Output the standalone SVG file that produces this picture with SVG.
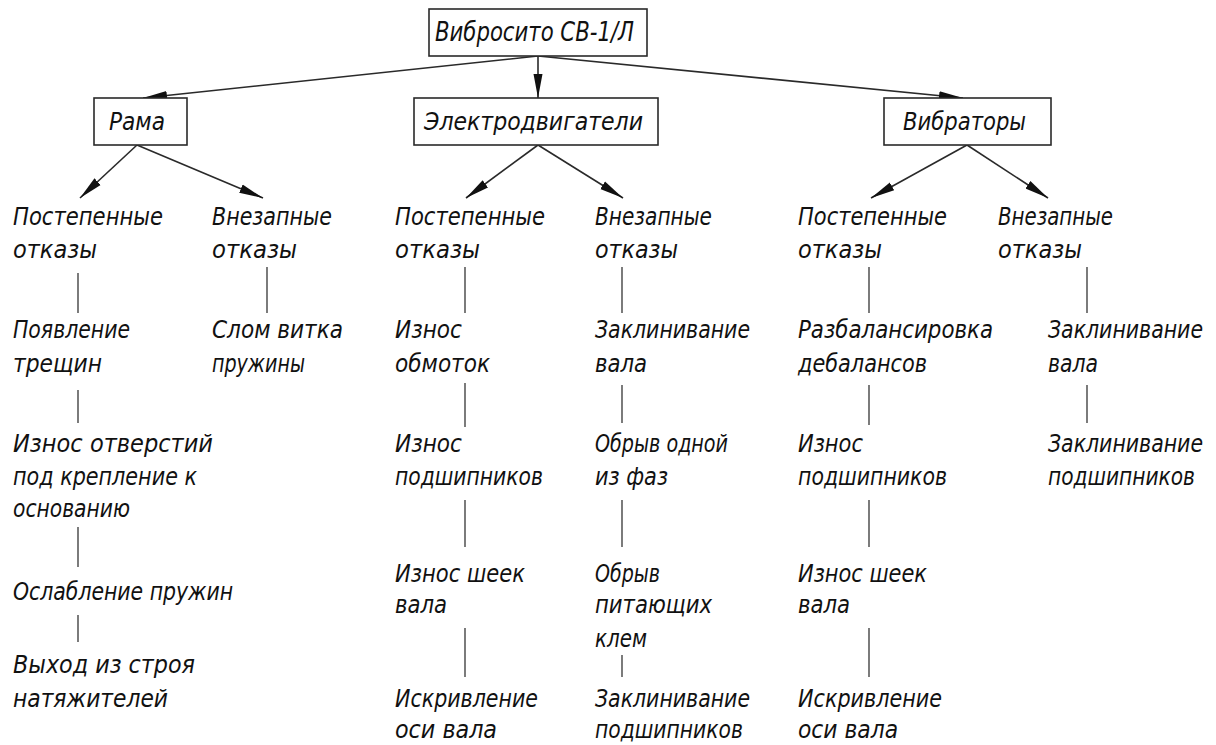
<svg xmlns="http://www.w3.org/2000/svg" width="1216" height="745" viewBox="0 0 1216 745">
<style>
.bg{fill:#ffffff}
.box{fill:#ffffff;stroke:#2a2a2a;stroke-width:1.6}
.t{font-family:"Liberation Sans Narrow","DejaVu Sans Condensed","Liberation Sans",sans-serif;font-style:italic;font-size:24px;fill:#111111}
.tb{font-family:"Liberation Sans Narrow","DejaVu Sans Condensed","Liberation Sans",sans-serif;font-style:italic;font-size:26px;fill:#111111}
.arr{stroke:#2a2a2a;stroke-width:1.6;fill:none;marker-end:url(#ah)}
.vl{stroke:#444444;stroke-width:1.4;fill:none}
</style>
<defs>
<marker id="ah" markerUnits="userSpaceOnUse" markerWidth="26" markerHeight="12" refX="24" refY="6" orient="auto">
<path d="M0,1.5 L24,6 L0,10.5 z" fill="#111111"/>
</marker>
</defs>
<rect class="bg" x="0" y="0" width="1216" height="745"/>

<g id="connectors">
<line class="arr" x1="538" y1="56" x2="143" y2="98"/>
<line class="arr" x1="538" y1="56" x2="538" y2="98"/>
<line class="arr" x1="538" y1="56" x2="963" y2="98"/>
<line class="arr" x1="137" y1="145" x2="80" y2="198"/>
<line class="arr" x1="137" y1="145" x2="263" y2="198"/>
<line class="arr" x1="538" y1="145" x2="466" y2="198"/>
<line class="arr" x1="538" y1="145" x2="623" y2="198"/>
<line class="arr" x1="967" y1="145" x2="871" y2="198"/>
<line class="arr" x1="967" y1="145" x2="1048" y2="198"/>
<!-- column 1 -->
<line class="vl" x1="78" y1="273" x2="78" y2="313"/>
<line class="vl" x1="78" y1="390" x2="78" y2="423"/>
<line class="vl" x1="78" y1="527" x2="78" y2="567"/>
<line class="vl" x1="78" y1="615" x2="78" y2="642"/>
<!-- column 2 -->
<line class="vl" x1="267" y1="267" x2="267" y2="313"/>
<!-- column 3 -->
<line class="vl" x1="465" y1="267" x2="465" y2="313"/>
<line class="vl" x1="465" y1="383" x2="465" y2="427"/>
<line class="vl" x1="465" y1="500" x2="465" y2="547"/>
<line class="vl" x1="465" y1="628" x2="465" y2="677"/>
<!-- column 4 -->
<line class="vl" x1="622" y1="267" x2="622" y2="313"/>
<line class="vl" x1="622" y1="385" x2="622" y2="423"/>
<line class="vl" x1="622" y1="500" x2="622" y2="547"/>
<line class="vl" x1="622" y1="655" x2="622" y2="677"/>
<!-- column 5 -->
<line class="vl" x1="869" y1="267" x2="869" y2="313"/>
<line class="vl" x1="869" y1="385" x2="869" y2="425"/>
<line class="vl" x1="869" y1="500" x2="869" y2="547"/>
<line class="vl" x1="869" y1="628" x2="869" y2="677"/>
<!-- column 6 -->
<line class="vl" x1="1087" y1="267" x2="1087" y2="313"/>
<line class="vl" x1="1087" y1="385" x2="1087" y2="423"/>
</g>

<g id="root">
<rect class="box" x="429" y="9" width="218" height="47"/>
<text class="tb" x="435" y="41" textLength="199" lengthAdjust="spacingAndGlyphs">Вибросито СВ-1/Л</text>
</g>
<g id="rama">
<rect class="box" x="94" y="98" width="93" height="47"/>
<text class="t" x="109" y="130" textLength="56" lengthAdjust="spacingAndGlyphs">Рама</text>
</g>
<g id="motors">
<rect class="box" x="414" y="98" width="244" height="47"/>
<text class="t" x="424" y="130" textLength="219" lengthAdjust="spacingAndGlyphs">Электродвигатели</text>
</g>
<g id="vibrators">
<rect class="box" x="884" y="98" width="167" height="47"/>
<text class="t" x="903" y="130" textLength="123" lengthAdjust="spacingAndGlyphs">Вибраторы</text>
</g>

<!-- column 1 -->
<g id="c1-gradual">
<text class="t" x="13" y="225" textLength="150" lengthAdjust="spacingAndGlyphs">Постепенные</text>
<text class="t" x="13" y="258" textLength="84" lengthAdjust="spacingAndGlyphs">отказы</text>
</g>
<g id="c1-cracks">
<text class="t" x="13" y="338" textLength="117" lengthAdjust="spacingAndGlyphs">Появление</text>
<text class="t" x="13" y="372" textLength="89" lengthAdjust="spacingAndGlyphs">трещин</text>
</g>
<g id="c1-holes">
<text class="t" x="13" y="452" textLength="200" lengthAdjust="spacingAndGlyphs">Износ отверстий</text>
<text class="t" x="13" y="485" textLength="184" lengthAdjust="spacingAndGlyphs">под крепление к</text>
<text class="t" x="13" y="517" textLength="117" lengthAdjust="spacingAndGlyphs">основанию</text>
</g>
<g id="c1-springs">
<text class="t" x="13" y="600" textLength="220" lengthAdjust="spacingAndGlyphs">Ослабление пружин</text>
</g>
<g id="c1-tensioners">
<text class="t" x="13" y="673" textLength="182" lengthAdjust="spacingAndGlyphs">Выход из строя</text>
<text class="t" x="13" y="707" textLength="155" lengthAdjust="spacingAndGlyphs">натяжителей</text>
</g>

<!-- column 2 -->
<g id="c2-sudden">
<text class="t" x="212" y="225" textLength="120" lengthAdjust="spacingAndGlyphs">Внезапные</text>
<text class="t" x="212" y="258" textLength="85" lengthAdjust="spacingAndGlyphs">отказы</text>
</g>
<g id="c2-coil">
<text class="t" x="212" y="338" textLength="131" lengthAdjust="spacingAndGlyphs">Слом витка</text>
<text class="t" x="212" y="372" textLength="93" lengthAdjust="spacingAndGlyphs">пружины</text>
</g>

<!-- column 3 -->
<g id="c3-gradual">
<text class="t" x="395" y="225" textLength="150" lengthAdjust="spacingAndGlyphs">Постепенные</text>
<text class="t" x="395" y="258" textLength="85" lengthAdjust="spacingAndGlyphs">отказы</text>
</g>
<g id="c3-windings">
<text class="t" x="395" y="338" textLength="67" lengthAdjust="spacingAndGlyphs">Износ</text>
<text class="t" x="395" y="372" textLength="95" lengthAdjust="spacingAndGlyphs">обмоток</text>
</g>
<g id="c3-bearings">
<text class="t" x="395" y="452" textLength="67" lengthAdjust="spacingAndGlyphs">Износ</text>
<text class="t" x="395" y="485" textLength="148" lengthAdjust="spacingAndGlyphs">подшипников</text>
</g>
<g id="c3-journals">
<text class="t" x="395" y="582" textLength="130" lengthAdjust="spacingAndGlyphs">Износ шеек</text>
<text class="t" x="395" y="613" textLength="52" lengthAdjust="spacingAndGlyphs">вала</text>
</g>
<g id="c3-bend">
<text class="t" x="395" y="707" textLength="143" lengthAdjust="spacingAndGlyphs">Искривление</text>
<text class="t" x="395" y="738" textLength="102" lengthAdjust="spacingAndGlyphs">оси вала</text>
</g>

<!-- column 4 -->
<g id="c4-sudden">
<text class="t" x="595" y="225" textLength="117" lengthAdjust="spacingAndGlyphs">Внезапные</text>
<text class="t" x="595" y="258" textLength="83" lengthAdjust="spacingAndGlyphs">отказы</text>
</g>
<g id="c4-shaft">
<text class="t" x="595" y="338" textLength="155" lengthAdjust="spacingAndGlyphs">Заклинивание</text>
<text class="t" x="595" y="372" textLength="52" lengthAdjust="spacingAndGlyphs">вала</text>
</g>
<g id="c4-phase">
<text class="t" x="595" y="452" textLength="133" lengthAdjust="spacingAndGlyphs">Обрыв одной</text>
<text class="t" x="595" y="485" textLength="73" lengthAdjust="spacingAndGlyphs">из фаз</text>
</g>
<g id="c4-terminals">
<text class="t" x="595" y="582" textLength="65" lengthAdjust="spacingAndGlyphs">Обрыв</text>
<text class="t" x="595" y="613" textLength="117" lengthAdjust="spacingAndGlyphs">питающих</text>
<text class="t" x="595" y="647" textLength="52" lengthAdjust="spacingAndGlyphs">клем</text>
</g>
<g id="c4-bearings">
<text class="t" x="595" y="707" textLength="155" lengthAdjust="spacingAndGlyphs">Заклинивание</text>
<text class="t" x="595" y="738" textLength="148" lengthAdjust="spacingAndGlyphs">подшипников</text>
</g>

<!-- column 5 -->
<g id="c5-gradual">
<text class="t" x="798" y="225" textLength="149" lengthAdjust="spacingAndGlyphs">Постепенные</text>
<text class="t" x="798" y="258" textLength="84" lengthAdjust="spacingAndGlyphs">отказы</text>
</g>
<g id="c5-unbalance">
<text class="t" x="798" y="338" textLength="195" lengthAdjust="spacingAndGlyphs">Разбалансировка</text>
<text class="t" x="798" y="372" textLength="129" lengthAdjust="spacingAndGlyphs">дебалансов</text>
</g>
<g id="c5-bearings">
<text class="t" x="798" y="452" textLength="65" lengthAdjust="spacingAndGlyphs">Износ</text>
<text class="t" x="798" y="485" textLength="149" lengthAdjust="spacingAndGlyphs">подшипников</text>
</g>
<g id="c5-journals">
<text class="t" x="798" y="582" textLength="129" lengthAdjust="spacingAndGlyphs">Износ шеек</text>
<text class="t" x="798" y="613" textLength="52" lengthAdjust="spacingAndGlyphs">вала</text>
</g>
<g id="c5-bend">
<text class="t" x="798" y="707" textLength="144" lengthAdjust="spacingAndGlyphs">Искривление</text>
<text class="t" x="798" y="738" textLength="100" lengthAdjust="spacingAndGlyphs">оси вала</text>
</g>

<!-- column 6 -->
<g id="c6-sudden">
<text class="t" x="998" y="225" textLength="115" lengthAdjust="spacingAndGlyphs">Внезапные</text>
<text class="t" x="998" y="258" textLength="84" lengthAdjust="spacingAndGlyphs">отказы</text>
</g>
<g id="c6-shaft">
<text class="t" x="1048" y="338" textLength="155" lengthAdjust="spacingAndGlyphs">Заклинивание</text>
<text class="t" x="1048" y="372" textLength="50" lengthAdjust="spacingAndGlyphs">вала</text>
</g>
<g id="c6-bearings">
<text class="t" x="1048" y="452" textLength="155" lengthAdjust="spacingAndGlyphs">Заклинивание</text>
<text class="t" x="1048" y="485" textLength="147" lengthAdjust="spacingAndGlyphs">подшипников</text>
</g>
</svg>
